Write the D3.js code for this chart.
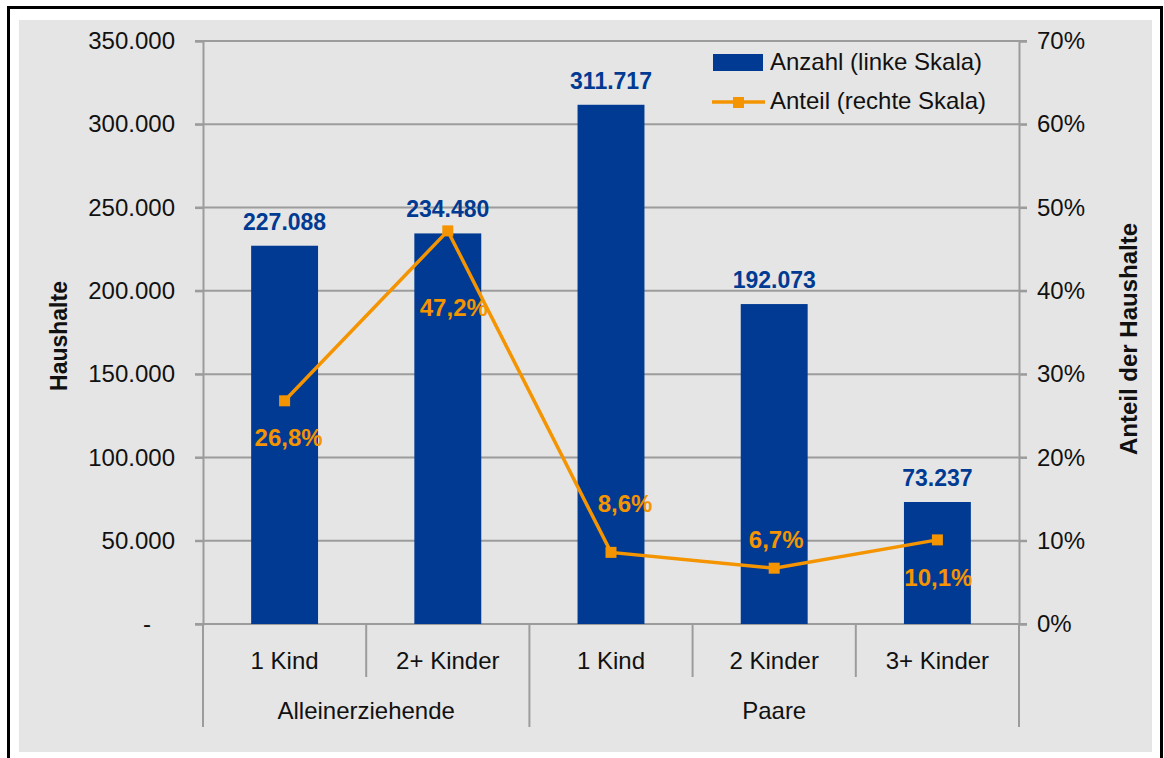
<!DOCTYPE html>
<meta charset="utf-8">
<script src="https://d3js.org/d3.v7.min.js"></script>
<style>
  body { margin: 0; background: #fff; }
  text { font-family: "Liberation Sans", Arial, sans-serif; }
</style>
<div id="chart"></div>
<script>

// data
var categories = ["1 Kind", "2+ Kinder", "1 Kind", "2 Kinder", "3+ Kinder"];
var groups = ["Alleinerziehende", "Paare"];
var groupOf = [0, 0, 1, 1, 1];
var anzahl = [227088, 234480, 311717, 192073, 73237];
var anteil = [26.8, 47.2, 8.6, 6.7, 10.1];
var leftTicks = [0, 50000, 100000, 150000, 200000, 250000, 300000, 350000];
var rightTicks = [0, 10, 20, 30, 40, 50, 60, 70];

var W = 1164, H = 758;
var plot = {left: 203, right: 1019, top: 41, bottom: 624};
var blue = "#003a92", orange = "#f49400", grid = "#9c9c9c";

var de = d3.formatLocale({decimal: ",", thousands: ".", grouping: [3], currency: ["", "€"]});
var fmtN = de.format(",.0f"), fmtP = de.format(".1f");

var svg = d3.select("#chart").append("svg")
    .attr("width", W).attr("height", H);

// frame + background
svg.append("rect").attr("x", 19).attr("y", 20).attr("width", 1133).attr("height", 732)
    .attr("fill", "#e5e5e5");
svg.append("rect").attr("x", 8.5).attr("y", 7.5).attr("width", 1153).attr("height", 760)
    .attr("fill", "none").attr("stroke", "#000").attr("stroke-width", 3);

var x = d3.scaleBand().domain(d3.range(categories.length))
    .range([plot.left, plot.right]);
var y = d3.scaleLinear().domain([0, 350000]).range([plot.bottom, plot.top]);
var y2 = d3.scaleLinear().domain([0, 70]).range([plot.bottom, plot.top]);

// gridlines
svg.append("g").selectAll("line").data(leftTicks).join("line")
    .attr("x1", plot.left - 8).attr("x2", plot.right + 8)
    .attr("y1", d => y(d)).attr("y2", d => y(d))
    .attr("stroke", grid).attr("stroke-width", 2);

// left axis
var yAxis = svg.append("g").attr("transform", "translate(" + plot.left + ",0)")
    .call(d3.axisLeft(y).tickValues(leftTicks).tickSize(8).tickPadding(20)
      .tickFormat(d => d === 0 ? "-" : fmtN(d)));
yAxis.select(".domain").attr("stroke", grid).attr("stroke-width", 2);
yAxis.selectAll(".tick line").attr("stroke", grid).attr("stroke-width", 2);
yAxis.selectAll("text").attr("font-size", 24).attr("fill", "#111")
    .attr("font-family", "Liberation Sans, Arial, sans-serif");
yAxis.selectAll(".tick").filter(d => d === 0).select("text").attr("dx", -24);

// right axis
var yAxis2 = svg.append("g").attr("transform", "translate(" + plot.right + ",0)")
    .call(d3.axisRight(y2).tickValues(rightTicks).tickSize(8).tickPadding(10)
      .tickFormat(d => d + "%"));
yAxis2.select(".domain").attr("stroke", grid).attr("stroke-width", 2);
yAxis2.selectAll(".tick line").attr("stroke", grid).attr("stroke-width", 2);
yAxis2.selectAll("text").attr("font-size", 24).attr("fill", "#111")
    .attr("font-family", "Liberation Sans, Arial, sans-serif");

// category dividers below the axis
var bounds = d3.range(categories.length + 1);
svg.append("g").selectAll("line").data(bounds).join("line")
    .attr("x1", i => i < categories.length ? x(i) : plot.right)
    .attr("x2", i => i < categories.length ? x(i) : plot.right)
    .attr("y1", plot.bottom)
    .attr("y2", i => (i === 0 || i === categories.length || groupOf[i] !== groupOf[i - 1]) ? 727 : 677)
    .attr("stroke", grid).attr("stroke-width", 2);

// bars
var bw = x.bandwidth() * 0.41;
svg.append("g").selectAll("rect").data(anzahl).join("rect")
    .attr("x", (d, i) => x(i) + x.bandwidth() / 2 - bw / 2)
    .attr("width", bw)
    .attr("y", d => y(d))
    .attr("height", d => plot.bottom - y(d))
    .attr("fill", blue);

svg.append("g").selectAll("text").data(anzahl).join("text")
    .attr("x", (d, i) => x(i) + x.bandwidth() / 2)
    .attr("y", d => y(d) - 16)
    .attr("text-anchor", "middle")
    .attr("font-size", 23).attr("font-weight", "bold").attr("fill", blue)
    .text(d => fmtN(d));

// line
var cx = i => x(i) + x.bandwidth() / 2;
var line = d3.line().x((d, i) => cx(i)).y(d => y2(d));
svg.append("path").datum(anteil)
    .attr("d", line).attr("fill", "none")
    .attr("stroke", orange).attr("stroke-width", 3.5);
svg.append("g").selectAll("rect").data(anteil).join("rect")
    .attr("x", (d, i) => cx(i) - 5.5).attr("y", d => y2(d) - 5.5)
    .attr("width", 11).attr("height", 11).attr("fill", orange);

// percent label offsets (dx, dy from marker to label centre)
var labelOff = [[4, 37], [6, 77], [14, -48], [2, -28], [1, 38]];
svg.append("g").selectAll("text").data(anteil).join("text")
    .attr("x", (d, i) => cx(i) + labelOff[i][0])
    .attr("y", (d, i) => y2(d) + labelOff[i][1] + 8)
    .attr("text-anchor", "middle")
    .attr("font-size", 24).attr("font-weight", "bold").attr("fill", orange)
    .text(d => fmtP(d) + "%");

// category labels
svg.append("g").selectAll("text").data(categories).join("text")
    .attr("x", (d, i) => cx(i)).attr("y", 669)
    .attr("text-anchor", "middle").attr("font-size", 24).attr("fill", "#111")
    .text(d => d);

svg.append("g").selectAll("text").data(groups).join("text")
    .attr("x", (g, gi) => {
      var idx = d3.range(categories.length).filter(i => groupOf[i] === gi);
      return (x(idx[0]) + x(idx[idx.length - 1]) + x.bandwidth()) / 2;
    })
    .attr("y", 719)
    .attr("text-anchor", "middle").attr("font-size", 24).attr("fill", "#111")
    .text(d => d);

// axis titles
svg.append("text")
    .attr("transform", "translate(67,336) rotate(-90)")
    .attr("text-anchor", "middle").attr("font-size", 23).attr("font-weight", "bold")
    .attr("fill", "#111").text("Haushalte");
svg.append("text")
    .attr("transform", "translate(1137,339) rotate(-90)")
    .attr("text-anchor", "middle").attr("font-size", 24).attr("font-weight", "bold")
    .attr("fill", "#111").text("Anteil der Haushalte");

// legend
var lg = svg.append("g");
lg.append("rect").attr("x", 713).attr("y", 54).attr("width", 50).attr("height", 17).attr("fill", blue);
lg.append("text").attr("x", 770).attr("y", 70).attr("font-size", 24).attr("fill", "#111")
    .text("Anzahl (linke Skala)");
lg.append("line").attr("x1", 712).attr("x2", 765).attr("y1", 102).attr("y2", 102)
    .attr("stroke", orange).attr("stroke-width", 3.5);
lg.append("rect").attr("x", 733).attr("y", 97).attr("width", 11).attr("height", 11).attr("fill", orange);
lg.append("text").attr("x", 770).attr("y", 109).attr("font-size", 24).attr("fill", "#111")
    .text("Anteil (rechte Skala)");

</script>
